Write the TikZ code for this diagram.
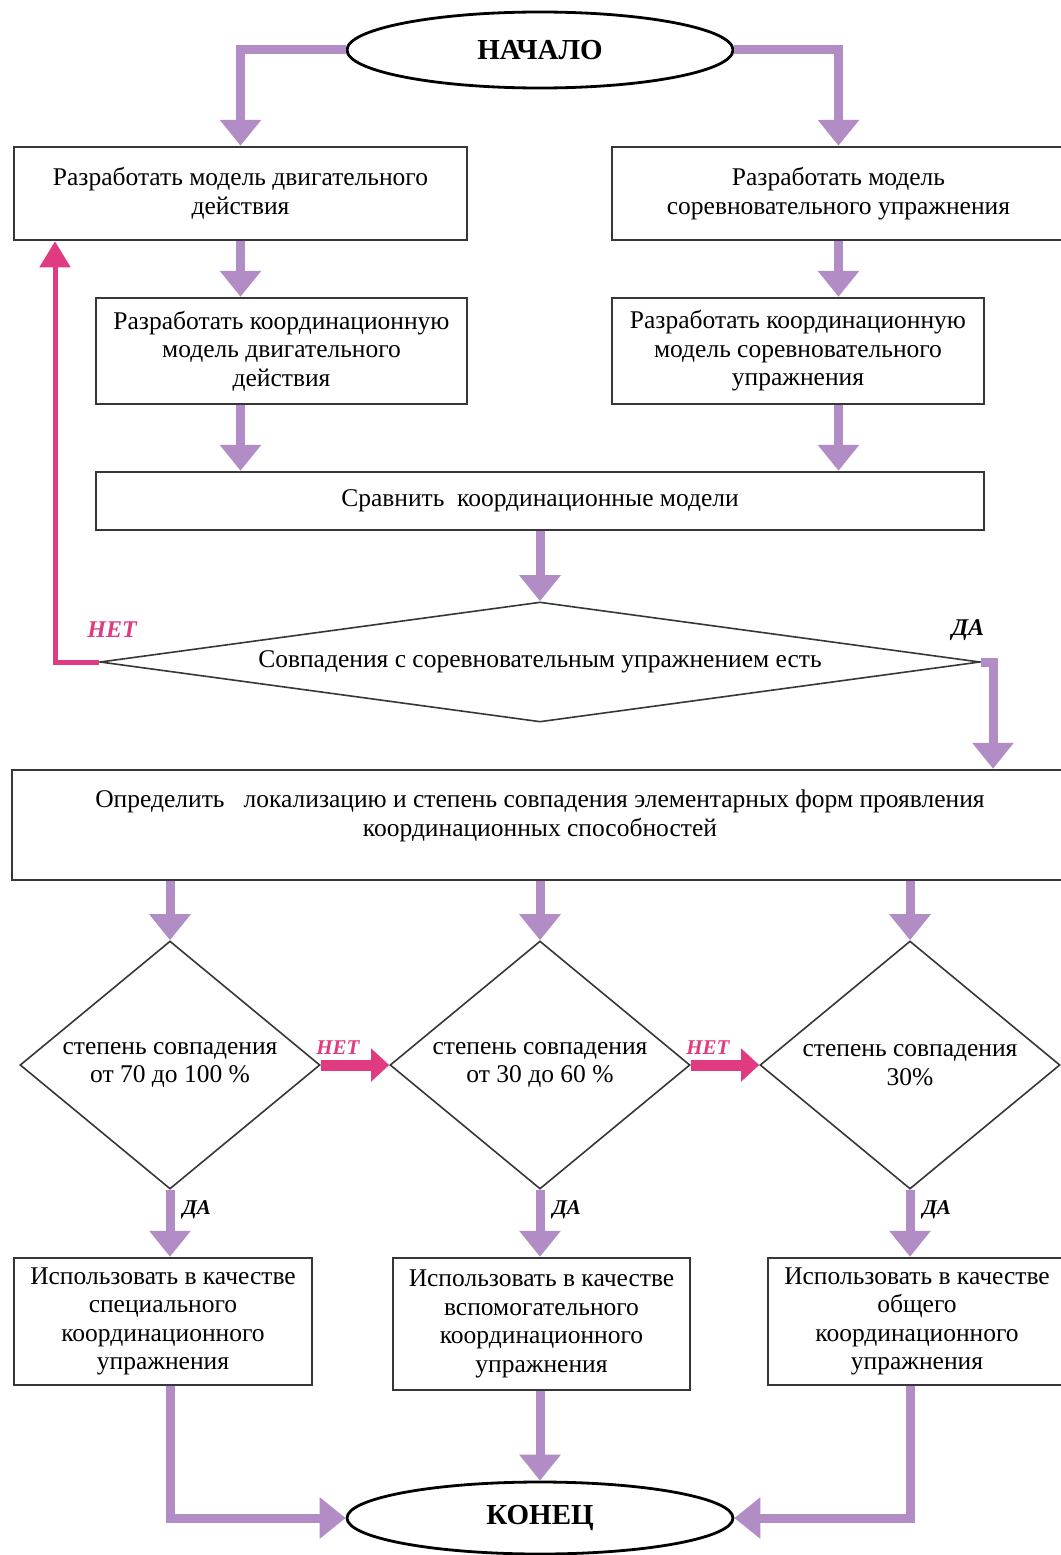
\documentclass[tikz,border=0pt]{standalone}
\usepackage{fontspec}
\setmainfont{Liberation Serif}
\usetikzlibrary{shapes.geometric,arrows.meta}
\definecolor{flowlilac}{RGB}{178,140,196}
\definecolor{flowpink}{RGB}{224,58,128}
\definecolor{boxline}{RGB}{55,55,55}

\tikzset{
  blok/.style={draw=boxline,line width=2.5pt,align=center,inner sep=0pt},
  uslovie/.style={diamond,draw=boxline,line width=1.6pt,align=center,inner sep=0pt},
  krai/.style={ellipse,draw=black,line width=2.8pt,font=\fontsize{29}{32}\selectfont\bfseries},
  potok/.style={draw=flowlilac,line width=9pt,-{Triangle[width=40pt,length=26pt]}},
  vozvrat/.style={draw=flowpink,line width=5pt,-{Triangle[width=30pt,length=26pt]}},
  netstr/.style={draw=flowpink,line width=11pt,-{Triangle[width=32pt,length=18pt]}},
  metka/.style={font=\fontsize{24}{26}\selectfont\bfseries\itshape,inner sep=2pt},
  malmetka/.style={font=\fontsize{21}{24}\selectfont\bfseries\itshape,inner sep=2pt},
}

\begin{document}
\begin{tikzpicture}[x=1pt,y=-1pt,font=\fontsize{25.5}{28.5}\selectfont]
\useasboundingbox[fill=white] (0,0) rectangle (1060,1555);

% start and two model branches
\node [krai,minimum width=386pt,minimum height=76pt] (nachalo) at (540,50) {НАЧАЛО};
\node [blok,minimum width=453pt,minimum height=93pt] (a1) at (240.5,193.5)
  {Разработать модель двигательного\\действия};
\node [blok,minimum width=453pt,minimum height=93pt] (b1) at (838.5,193.5)
  {Разработать модель\\соревновательного упражнения};
\node [blok,minimum width=371pt,minimum height=106pt] (a2) at (281.5,351)
  {Разработать координационную\\модель двигательного\\действия};
\node [blok,minimum width=372pt,minimum height=106pt] (b2) at (798,351)
  {Разработать координационную\\модель соревновательного\\упражнения};
\node [blok,minimum width=888pt,minimum height=58pt] (c) at (540,501)
  {Сравнить\ \ координационные модели};
\node [uslovie,aspect=7.33,minimum width=880pt,minimum height=120pt] (d) at (540,662)
  {Совпадения с соревновательным упражнением есть};

% localisation box
\node [blok,minimum width=1056pt,minimum height=110pt] (e) at (540,825) {};
\node [align=center,inner sep=0pt] (etekst) at (540,816)
  {Определить\ \ \ локализацию и степень совпадения элементарных форм проявления\\координационных способностей};

% degree of match
\node [uslovie,aspect=1.21,minimum width=300pt,minimum height=248pt] (d1) at (170,1065)
  {степень совпадения\\от 70 до 100 \%};
\node [uslovie,aspect=1.21,minimum width=300pt,minimum height=248pt] (d2) at (540,1065)
  {степень совпадения\\от 30 до 60 \%};
\node [uslovie,aspect=1.21,minimum width=300pt,minimum height=248pt] (d3) at (910,1065)
  {степень совпадения\\30\%};

\node [blok,minimum width=298pt,minimum height=127pt] (f1) at (163,1321.5)
  {Использовать в качестве\\специального\\координационного\\упражнения};
\node [blok,minimum width=297pt,minimum height=132pt] (f2) at (541.5,1324)
  {Использовать в качестве\\вспомогательного\\координационного\\упражнения};
\node [blok,minimum width=298pt,minimum height=127pt] (f3) at (917,1321.5)
  {Использовать в качестве\\общего\\координационного\\упражнения};
\node [krai,minimum width=386pt,minimum height=72pt] (konets) at (540,1518) {КОНЕЦ};

% connectors
\draw [potok] (nachalo.west) -| (a1.north);
\draw [potok] (nachalo.east) -| (b1.north);
\draw [potok] (a1.south) -- (a1.south |- a2.north);
\draw [potok] (b1.south) -- (b1.south |- b2.north);
\draw [potok] (a1.south |- a2.south) -- (a1.south |- c.north);
\draw [potok] (b1.south |- b2.south) -- (b1.south |- c.north);
\draw [potok] (c.south) -- (d.north);

\coordinate (daugol) at (993,662);
\coordinate (netugol) at (55,662);
\draw [potok] (d.east) -- (daugol) -- (daugol |- e.north);
\draw [vozvrat] (d.west) -- (netugol) -- (netugol |- a1.south);
\node [metka] (da0) at (968,630) {ДА};
\node [metka,text=flowpink] (net0) at (112,630) {НЕТ};

\foreach \r in {d1,d2,d3}
  \draw [potok] (e.south -| \r.north) -- (\r.north);

\draw [netstr] (d1.east) -- (d2.west) node [pos=0.25,above=3pt,malmetka,text=flowpink] {НЕТ};
\draw [netstr] (d2.east) -- (d3.west) node [pos=0.25,above=3pt,malmetka,text=flowpink] {НЕТ};

\foreach \r/\f in {d1/f1,d2/f2,d3/f3}
  \draw [potok] (\r.south) -- (\r.south |- \f.north) node [pos=0.3,right=6pt,malmetka] {ДА};

\draw [potok] (f1.south -| d1.south) |- (konets.west);
\draw [potok] (f2.south -| konets.north) -- (konets.north);
\draw [potok] (f3.south -| d3.south) |- (konets.east);
\end{tikzpicture}
\end{document}
